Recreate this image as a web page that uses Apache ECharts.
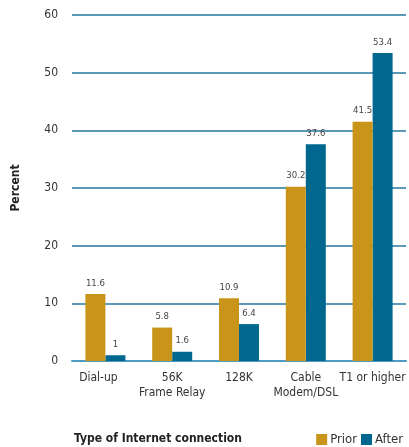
<!DOCTYPE html>
<html>
<head>
<meta charset="utf-8">
<script src="https://cdn.jsdelivr.net/npm/echarts@6/dist/echarts.min.js"></script>
<style>
  html, body { margin: 0; padding: 0; background: #fff; }
  #chart { width: 409px; height: 447px; }
</style>
</head>
<body>
<div id="chart"></div>
<script>
// Connection types and the share of users before / after
const categories = ['Dial-up', '56K\nFrame Relay', '128K', 'Cable\nModem/DSL', 'T1 or higher'];
const priorValues = [11.6, 5.8, 10.9, 30.2, 41.5];
const afterValues = [1, 1.6, 6.4, 37.6, 53.4];
const yTicks = [0, 10, 20, 30, 40, 50, 60];

const FONT = '"DejaVu Sans Condensed", "Liberation Sans Narrow", "Liberation Sans", sans-serif';
const GOLD = '#c8951a';
const BLUE = '#00678f';

const chart = echarts.init(document.getElementById('chart'));

const valueLabel = {
  show: true,
  position: 'top',
  distance: 6,
  fontFamily: FONT,
  fontSize: 9.5,
  color: '#444'
};

// first label sits a little left of its bar pair
const categoryData = categories.map((c, i) =>
  i === 0 ? { value: c, textStyle: { padding: [0, 14, 0, 0] } } : c
);

chart.setOption({
  animation: false,
  backgroundColor: '#fff',
  textStyle: { fontFamily: FONT },
  title: {
    text: 'Type of Internet connection',
    left: 69,
    top: 428,
    textStyle: { fontFamily: FONT, fontSize: 12, fontWeight: 'bold', color: '#222' }
  },
  legend: {
    right: 1,
    top: 428,
    icon: 'rect',
    itemWidth: 11,
    itemHeight: 11,
    itemGap: 4,
    textStyle: { fontFamily: FONT, fontSize: 13, color: '#333', padding: [0, 0, 0, -2] },
    data: ['Prior', 'After']
  },
  grid: { left: 72, right: 3, top: 15, bottom: 86 },
  xAxis: {
    type: 'category',
    data: categoryData,
    axisTick: { show: false },
    axisLine: { show: true, lineStyle: { color: '#4f9cc2', width: 2 } },
    axisLabel: {
      interval: 0,
      fontFamily: FONT, fontSize: 12, color: '#333', margin: 9, lineHeight: 15
    }
  },
  yAxis: {
    type: 'value',
    min: yTicks[0],
    max: yTicks[yTicks.length - 1],
    interval: yTicks[1] - yTicks[0],
    name: 'Percent',
    nameLocation: 'middle',
    nameGap: 50,
    nameTextStyle: { fontFamily: FONT, fontSize: 12, fontWeight: 'bold', color: '#222' },
    axisLine: { show: false },
    axisTick: { show: false },
    axisLabel: { fontFamily: FONT, fontSize: 12, color: '#333', margin: 14 },
    splitLine: { lineStyle: { color: '#2377a0', width: 1.5 } }
  },
  series: [
    {
      name: 'Prior',
      type: 'bar',
      zlevel: 1,
      data: priorValues,
      barWidth: 20,
      barGap: '0%',
      itemStyle: { color: GOLD },
      label: valueLabel
    },
    {
      name: 'After',
      type: 'bar',
      data: afterValues,
      barWidth: 20,
      itemStyle: { color: BLUE },
      label: valueLabel
    }
  ]
});
</script>
</body>
</html>
